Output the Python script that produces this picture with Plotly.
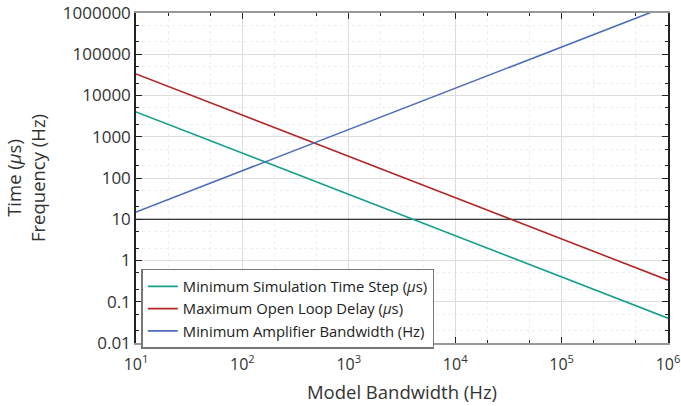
import plotly.graph_objects as go

bandwidth_hz = [10, 100, 1000, 10000, 100000, 1000000]
min_sim_step_us = [4000, 400, 40, 4, 0.4, 0.04]
max_loop_delay_us = [33333, 3333, 333, 33.3, 3.33, 0.333]
min_amp_bw_hz = [15, 150, 1500, 15000, 150000, 1500000]
threshold_x = [10, 1000000]
threshold_y = [10, 10]

names = ["Minimum Simulation Time Step (<i>μ</i>s)",
         "Maximum Open Loop Delay (<i>μ</i>s)",
         "Minimum Amplifier Bandwidth (Hz)"]
colors = ["#16a08a", "#b02828", "#4a6cb8"]

y_tickvals = [0.01, 0.1, 1, 10, 100, 1000, 10000, 100000, 1000000]
y_ticktext = ["0.01", "0.1", "1", "10", "100", "1000", "10000", "100000", "1000000"]
x_tickvals = [10, 100, 1000, 10000, 100000, 1000000]
x_ticktext = ["10<sup>1</sup>", "10<sup>2</sup>", "10<sup>3</sup>", "10<sup>4</sup>",
              "10<sup>5</sup>", "10<sup>6</sup>"]

FONT = "Open Sans"
fig = go.Figure()
fig.add_trace(go.Scatter(x=threshold_x, y=threshold_y, mode="lines",
                         line=dict(color="black", width=1.2), showlegend=False,
                         hoverinfo="skip"))
for ys, n, c in zip([min_sim_step_us, max_loop_delay_us, min_amp_bw_hz], names, colors):
    fig.add_trace(go.Scatter(x=bandwidth_hz, y=ys, mode="lines", name=n,
                             line=dict(color=c, width=1.6)))

fig.update_layout(
    width=681, height=406,
    margin=dict(l=136, r=13, t=13, b=63, autoexpand=False),
    paper_bgcolor="white", plot_bgcolor="white",
    font=dict(family=FONT, size=15, color="#333333"),
    legend=dict(x=0.01, y=0.225, xanchor="left", yanchor="top",
                bgcolor="white", bordercolor="#777777", borderwidth=1.5,
                font=dict(size=14.8, color="#222222"), tracegroupgap=0,
                itemwidth=30),
)
fig.update_xaxes(
    type="log", range=[1, 6], tickvals=x_tickvals, ticktext=x_ticktext,
    showline=True, linecolor="#999999", linewidth=1.5, mirror="ticks",
    ticks="inside", ticklen=6, tickcolor="#222222", automargin=False,
    showgrid=True, gridcolor="#dddddd", gridwidth=1,
    minor=dict(ticks="inside", ticklen=3, tickcolor="#222222", showgrid=True,
               gridcolor="#eeeeee", griddash="dot"),
    title=dict(text="Model Bandwidth (Hz)", font=dict(size=18.5, color="#333333"), standoff=12),
    tickfont=dict(size=16, color="#333333"), zeroline=False, ticklabelstandoff=6,
)
fig.update_yaxes(
    type="log", range=[-2, 6], tickvals=y_tickvals, ticktext=y_ticktext,
    showline=True, linecolor="#222222", linewidth=1.5, mirror="ticks",
    ticks="inside", ticklen=6, tickcolor="#222222", automargin=False,
    showgrid=True, gridcolor="#dddddd", gridwidth=1,
    minor=dict(ticks="inside", ticklen=3, tickcolor="#222222", showgrid=True,
               gridcolor="#eeeeee", griddash="dot"),
    title=dict(text="Time (<i>μ</i>s)<br>Frequency (Hz)", font=dict(size=18.5, color="#333333"), standoff=12),
    tickfont=dict(size=17, color="#333333"), zeroline=False,
)
fig.write_html("out.html")
